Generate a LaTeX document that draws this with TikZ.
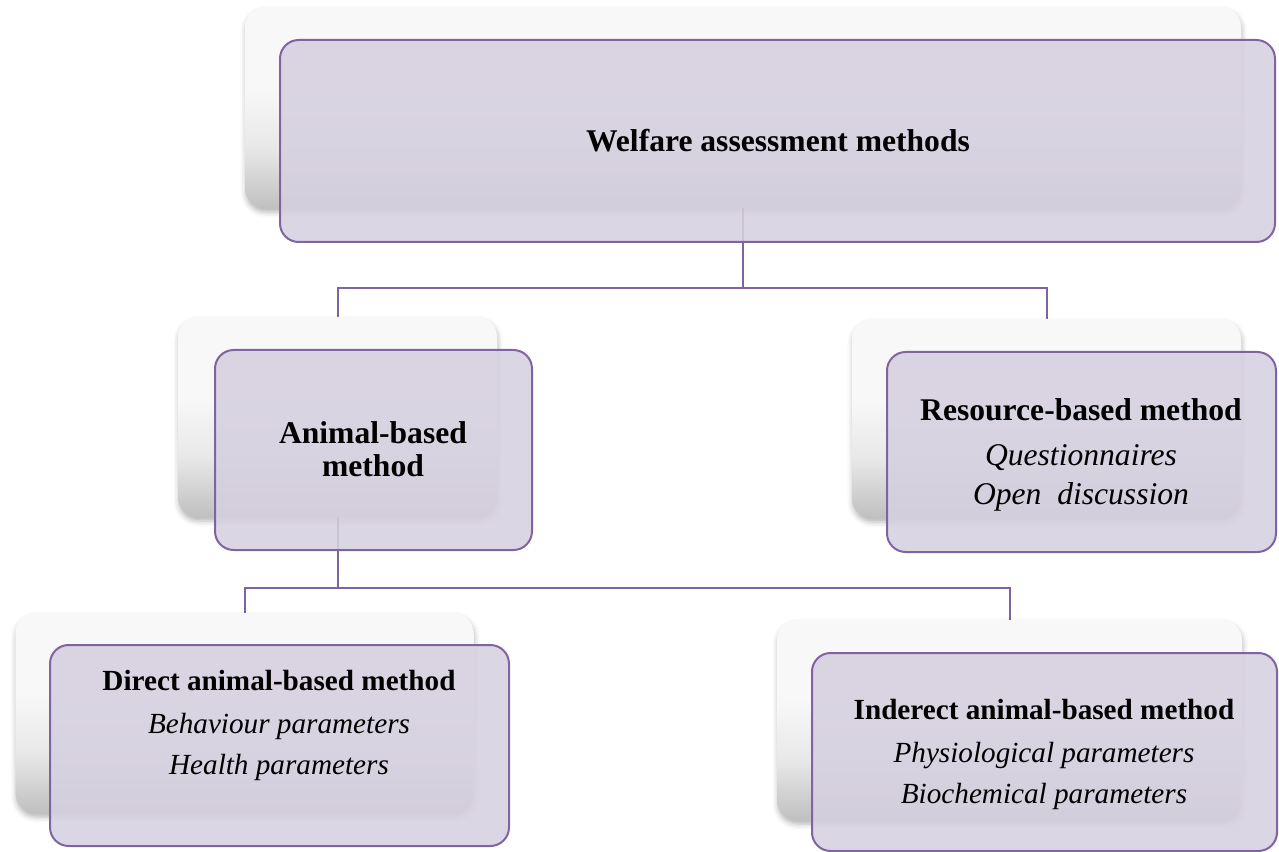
\documentclass[tikz,border=0pt]{standalone}
\usepackage{fontspec}
\setmainfont{Liberation Serif}
\usetikzlibrary{shadows.blur,backgrounds}
\definecolor{pborder}{RGB}{128,100,162}
\definecolor{pfill}{RGB}{214,208,224}
\definecolor{ctop}{RGB}{248,248,248}
\definecolor{cmid}{RGB}{232,232,232}
\definecolor{cbot}{RGB}{192,192,192}
\pgfdeclareverticalshading{cardshade}{100bp}{color(0bp)=(cbot); color(25bp)=(cbot); color(40bp)=(cmid); color(55bp)=(ctop); color(75bp)=(ctop); color(100bp)=(ctop)}
\begin{document}
\begin{tikzpicture}[x=0.75pt,y=-0.75pt,
  card/.style={rounded corners=15pt, inner sep=0pt, shading=cardshade,
    blur shadow={shadow xshift=0.6pt, shadow yshift=-3pt, shadow blur radius=4pt, shadow opacity=30}},
  front/.style={rounded corners=14pt, draw=pborder, line width=1.5pt, fill=pfill, fill opacity=0.88, inner sep=0pt},
  conn/.style={draw=pborder, line width=1.5pt},
  ta/.style={align=center, inner sep=0pt, font=\fontsize{23.7pt}{29.25pt}\selectfont},
  tb/.style={align=center, inner sep=0pt, font=\fontsize{21.9pt}{30.4pt}\selectfont}]
\useasboundingbox (0,0) rectangle (1279,852);

% top
\node[card, minimum width=747pt, minimum height=150.75pt] (ws) at (743,107.5) {};
\node[front, minimum width=746.25pt, minimum height=151.5pt] (w) at (777.5,141) {};
\node[ta] (wt) at (778,140.5) {\textbf{Welfare assessment methods}};

% animal-based
\node[card, minimum width=239.25pt, minimum height=150pt] (as) at (337.5,417) {};
\node[front, minimum width=237.75pt, minimum height=150pt] (a) at (373.5,450) {};
\node[ta, font=\fontsize{23.7pt}{24.75pt}\selectfont] (at) at (373,449) {\textbf{Animal-based}\\\textbf{method}};

% resource-based
\node[card, minimum width=291.75pt, minimum height=149.25pt] (rs) at (1046.5,418.5) {};
\node[front, minimum width=291.75pt, minimum height=150pt] (r) at (1081.5,452) {};
\node[ta] (rt) at (1081,455) {\textbf{Resource-based method}\\[4.5pt]\textit{Questionnaires}\\\textit{Open\ \ discussion}};

% direct
\node[card, minimum width=343.5pt, minimum height=150pt] (ds) at (244.5,713) {};
\node[front, minimum width=344.25pt, minimum height=150.75pt] (d) at (279.5,745.5) {};
\node[tb] (dt) at (279,725) {\textbf{Direct animal-based method}\\[2.2pt]\textit{Behaviour parameters}\\\textit{Health parameters}};

% indirect
\node[card, minimum width=348.75pt, minimum height=150pt] (is) at (1009.5,720) {};
\node[front, minimum width=348.75pt, minimum height=148.5pt] (i) at (1044.5,752) {};
\node[tb] (it) at (1044,754) {\textbf{Inderect animal-based method}\\[2.2pt]\textit{Physiological parameters}\\\textit{Biochemical parameters}};

\begin{scope}[on background layer]
  \draw[conn] (ws.south) -- (ws.south |- 0,288) coordinate (b1);
  \draw[conn] (as.north) |- (b1) -| (rs.north);
  \draw[conn] (as.south) -- (as.south |- 0,588) coordinate (b2);
  \draw[conn] (ds.north) |- (b2) -| (is.north);
\end{scope}
\end{tikzpicture}
\end{document}
